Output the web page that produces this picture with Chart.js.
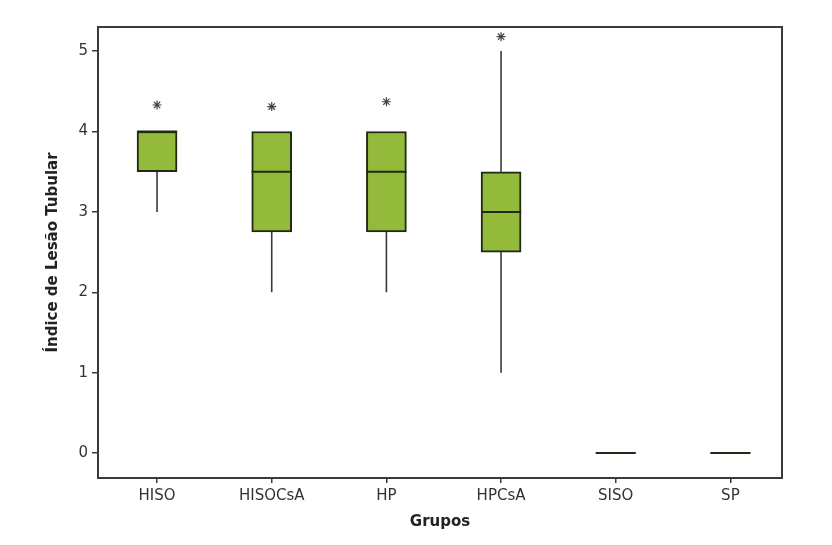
<!DOCTYPE html>
<html>
<head>
<meta charset="utf-8">
<script src="https://cdn.jsdelivr.net/npm/chart.js@4/dist/chart.umd.min.js"></script>
<style>
html,body{margin:0;padding:0;background:#fff;}
#wrap{width:832px;height:545px;}
</style>
</head>
<body>
<div id="wrap"><canvas id="c" width="832" height="545"></canvas></div>
<script>
// ---- data ----
const categories = ['HISO', 'HISOCsA', 'HP', 'HPCsA', 'SISO', 'SP'];
const q1Values = [3.5, 2.75, 2.75, 2.5, 0, 0];
const medianValues = [4, 3.5, 3.5, 3.0, 0, 0];
const q3Values = [4, 4, 4, 3.5, 0, 0];
const whiskerLow = [3, 2, 2, 1, 0, 0];
const whiskerHigh = [4, 4, 4, 5, 0, 0];
const outlierValues = [4.33, 4.31, 4.37, 5.18, null, null];
const yTickValues = [0, 1, 2, 3, 4, 5];

// ---- build datasets ----
const halfW = 0.175;
const boxData = [];
const medianData = [];
const whiskerData = [];
const outlierData = [];
categories.forEach((c, i) => {
  const x = i + 1;
  if (q3Values[i] > q1Values[i]) boxData.push({x: x, y: [q1Values[i], q3Values[i]]});
  medianData.push({x: x - halfW, y: medianValues[i]}, {x: x + halfW, y: medianValues[i]}, {x: x + 0.5, y: null});
  if (whiskerLow[i] < q1Values[i]) whiskerData.push({x: x, y: whiskerLow[i]}, {x: x, y: q1Values[i]}, {x: x + 0.01, y: null});
  if (whiskerHigh[i] > q3Values[i]) whiskerData.push({x: x, y: q3Values[i]}, {x: x, y: whiskerHigh[i]}, {x: x + 0.01, y: null});
  if (outlierValues[i] !== null) outlierData.push({x: x, y: outlierValues[i]});
});

const frame = {
  id: 'frame',
  afterDraw(chart) {
    const {ctx, chartArea: a} = chart;
    ctx.save();
    ctx.strokeStyle = '#3a3a3a';
    ctx.lineWidth = 2;
    ctx.strokeRect(a.left, a.top, a.right - a.left, a.bottom - a.top);
    ctx.restore();
  }
};

new Chart(document.getElementById('c'), {
  data: {
    datasets: [
      {
        type: 'line', data: whiskerData, borderColor: '#3a3a3a', borderWidth: 1.6,
        pointRadius: 0, spanGaps: false, order: 3
      },
      {
        type: 'bar', data: boxData, backgroundColor: '#94ba3c', borderColor: '#1f2a12',
        borderWidth: 2, borderSkipped: false, barThickness: 40, order: 2
      },
      {
        type: 'line', data: medianData, borderColor: '#1f2a12', borderWidth: 2,
        pointRadius: 0, spanGaps: false, order: 1
      },
      {
        type: 'scatter', data: outlierData, pointStyle: 'star', radius: 4.5,
        borderColor: '#444', borderWidth: 1.2, backgroundColor: '#444', order: 0
      }
    ]
  },
  options: {
    responsive: false,
    animation: false,
    events: [],
    layout: {padding: {left: 0, right: 50, top: 27, bottom: 0}},
    plugins: {legend: {display: false}, tooltip: {enabled: false}},
    scales: {
      x: {
        type: 'linear', min: 0.485, max: 6.45, offset: false,
        afterBuildTicks: s => { s.ticks = categories.map((c, i) => ({value: i + 1})); },
        afterFit: s => { s.height = 67; },
        grid: {display: true, offset: false, drawOnChartArea: false, drawTicks: true, tickLength: 5, color: '#3a3a3a', lineWidth: 1.5},
        border: {display: true, color: '#3a3a3a', width: 2},
        ticks: {
          callback: v => categories[Math.round(v) - 1],
          color: '#333', font: {family: 'DejaVu Sans', size: 15}, padding: 4, maxRotation: 0
        },
        title: {
          display: true, text: 'Grupos', color: '#222',
          font: {family: 'DejaVu Sans', size: 15, weight: 'bold'}, padding: {top: 0, bottom: 14}
        }
      },
      y: {
        type: 'linear', min: -0.31, max: 5.3,
        afterBuildTicks: s => { s.ticks = yTickValues.map(v => ({value: v})); },
        afterFit: s => { s.width = 98; },
        grid: {display: true, drawOnChartArea: false, drawTicks: true, tickLength: 6, color: '#3a3a3a', lineWidth: 1.5},
        border: {display: true, color: '#3a3a3a', width: 2},
        ticks: {color: '#333', font: {family: 'DejaVu Sans', size: 15}, padding: 4},
        title: {
          display: true, text: 'Índice de Lesão Tubular', color: '#222',
          font: {family: 'DejaVu Sans', size: 15, weight: 'bold'}, padding: {top: 44, bottom: 0}
        }
      }
    }
  },
  plugins: [frame]
});
</script>
</body>
</html>
